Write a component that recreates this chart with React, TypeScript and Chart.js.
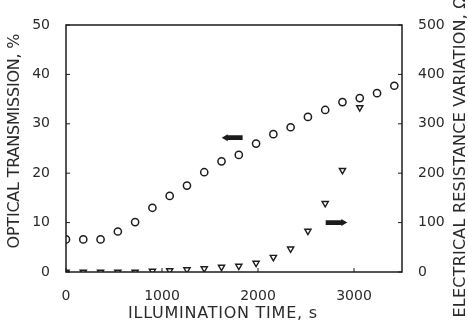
import React, { useEffect, useRef } from "react";
import { Chart, registerables } from "chart.js";

Chart.register(...registerables);

// ---- data ----
const transmissionTimes = [0, 180, 360, 540, 720, 900, 1080, 1260, 1440, 1620, 1800, 1980, 2160, 2340, 2520, 2700, 2880, 3060, 3240, 3420];
const transmissionValues = [6.6, 6.6, 6.6, 8.2, 10.1, 13.0, 15.4, 17.5, 20.2, 22.4, 23.7, 26.0, 27.9, 29.3, 31.4, 32.8, 34.4, 35.2, 36.2, 37.7];

const resistanceTimes = [0, 180, 360, 540, 720, 900, 1080, 1260, 1440, 1620, 1800, 1980, 2160, 2340, 2520, 2700, 2880, 3060];
const resistanceValues = [0, 0, 0, 0, 0, 2, 3, 5, 7, 10, 12, 18, 30, 47, 83, 139, 206, 333];

const xTicks = [0, 1000, 2000, 3000];
const leftTicks = [0, 10, 20, 30, 40, 50];
const rightTicks = [0, 100, 200, 300, 400, 500];

const xTitle = "ILLUMINATION TIME, s";
const leftTitle = "OPTICAL TRANSMISSION, %";
const rightTitle = "ELECTRICAL RESISTANCE VARIATION, \u03A9";

// arrows (data coordinates): tail time, head time, value, axis
const transmissionArrow = { from: 1840, to: 1622, value: 27.2, axis: "y" };
const resistanceArrow = { from: 2705, to: 2930, value: 100, axis: "y1" };

const INK = "#1c1c1c";
const TEXT = "#2a2a2a";

function drawArrow(ctx: CanvasRenderingContext2D, chart: any, arrow: any) {
  const xs = chart.scales.x;
  const ys = chart.scales[arrow.axis];
  const x0 = xs.getPixelForValue(arrow.from);
  const x1 = xs.getPixelForValue(arrow.to);
  const y = ys.getPixelForValue(arrow.value);
  const dir = x1 > x0 ? 1 : -1;
  const headLen = 6;
  const headHalf = 3.5;
  const shaftHalf = 2.4;
  const xb = x1 - dir * headLen;
  ctx.beginPath();
  ctx.moveTo(x0, y - shaftHalf);
  ctx.lineTo(xb, y - shaftHalf);
  ctx.lineTo(xb, y - headHalf);
  ctx.lineTo(x1, y);
  ctx.lineTo(xb, y + headHalf);
  ctx.lineTo(xb, y + shaftHalf);
  ctx.lineTo(x0, y + shaftHalf);
  ctx.closePath();
  ctx.fillStyle = INK;
  ctx.fill();
}

function drawTitle(ctx: CanvasRenderingContext2D, text: string, cx: number, cy: number, target: number, rot: number) {
  ctx.save();
  ctx.font = "16px 'DejaVu Sans'";
  (ctx as any).letterSpacing = "0px";
  const w = ctx.measureText(text).width;
  const ls = (target - w) / (text.length - 1);
  (ctx as any).letterSpacing = ls + "px";
  ctx.translate(cx, cy);
  ctx.rotate(rot);
  ctx.textAlign = "left";
  ctx.textBaseline = "middle";
  ctx.fillStyle = TEXT;
  ctx.fillText(text, -target / 2, 0);
  ctx.restore();
}

const framePlugin = {
  id: "frame",
  beforeDatasetsDraw(chart: any) {
    const { ctx, chartArea: a, scales } = chart;
    ctx.save();
    ctx.strokeStyle = INK;
    ctx.lineWidth = 1.5;
    ctx.strokeRect(a.left, a.top, a.right - a.left, a.bottom - a.top);
    ctx.lineWidth = 1;
    const tl = 4;
    ctx.beginPath();
    leftTicks.forEach((v) => {
      const y = scales.y.getPixelForValue(v);
      ctx.moveTo(a.left, y);
      ctx.lineTo(a.left + tl, y);
    });
    rightTicks.forEach((v) => {
      const y = scales.y1.getPixelForValue(v);
      ctx.moveTo(a.right, y);
      ctx.lineTo(a.right - tl, y);
    });
    xTicks.forEach((v) => {
      const x = scales.x.getPixelForValue(v);
      ctx.moveTo(x, a.bottom);
      ctx.lineTo(x, a.bottom - tl);
    });
    ctx.stroke();
    ctx.restore();
  },
  afterDatasetsDraw(chart: any) {
    const { ctx, chartArea: a } = chart;
    ctx.save();
    drawArrow(ctx, chart, transmissionArrow);
    drawArrow(ctx, chart, resistanceArrow);
    const midX = (a.left + a.right) / 2;
    const midY = (a.top + a.bottom) / 2;
    drawTitle(ctx, xTitle, midX - 11.5, a.bottom + 41.5, 189, 0);
    drawTitle(ctx, leftTitle, 15, midY - 7.5, 215, -Math.PI / 2);
    drawTitle(ctx, rightTitle, 461, midY + 8.5, 321, -Math.PI / 2);
    ctx.restore();
  },
};

const plainLabel = (v: any) => String(v);

export default function App() {
  const ref = useRef<HTMLCanvasElement | null>(null);

  useEffect(() => {
    if (!ref.current) return;
    const tickFont = { family: "'DejaVu Sans'", size: 14 };
    const chart = new Chart(ref.current, {
      type: "scatter",
      data: {
        datasets: [
          {
            label: "Optical transmission",
            data: transmissionTimes.map((t, i) => ({ x: t, y: transmissionValues[i] })),
            yAxisID: "y",
            pointStyle: "circle",
            pointRadius: 3.6,
            borderWidth: 1.5,
            borderColor: INK,
            backgroundColor: "rgba(255,255,255,0)",
            showLine: false,
          },
          {
            label: "Electrical resistance variation",
            data: resistanceTimes.map((t, i) => ({ x: t, y: resistanceValues[i] })),
            yAxisID: "y1",
            pointStyle: "triangle",
            rotation: 180,
            pointRadius: 3.6,
            borderWidth: 1.4,
            borderColor: INK,
            backgroundColor: "rgba(255,255,255,0)",
            showLine: false,
          },
        ],
      },
      options: {
        responsive: false,
        animation: false,
        devicePixelRatio: 1,
        layout: { padding: { top: 25, left: 0, right: 0, bottom: 0 } },
        plugins: { legend: { display: false }, tooltip: { enabled: false } },
        scales: {
          x: {
            type: "linear",
            min: 0,
            max: 3500,
            grid: { display: false },
            border: { display: false },
            ticks: { stepSize: 1000, font: tickFont, color: TEXT, padding: 8, maxRotation: 0, callback: plainLabel },
            afterBuildTicks: (scale: any) => {
              scale.ticks = xTicks.map((v) => ({ value: v }));
            },
            afterFit: (scale: any) => {
              scale.height = 56;
            },
          },
          y: {
            type: "linear",
            position: "left",
            min: 0,
            max: 50,
            grid: { display: false },
            border: { display: false },
            ticks: { stepSize: 10, font: tickFont, color: TEXT, padding: 8, callback: plainLabel },
            afterBuildTicks: (scale: any) => {
              scale.ticks = leftTicks.map((v) => ({ value: v }));
            },
            afterFit: (scale: any) => {
              scale.width = 66;
            },
          },
          y1: {
            type: "linear",
            position: "right",
            min: 0,
            max: 500,
            grid: { display: false },
            border: { display: false },
            ticks: { stepSize: 100, font: tickFont, color: TEXT, padding: 8, callback: plainLabel },
            afterBuildTicks: (scale: any) => {
              scale.ticks = rightTicks.map((v) => ({ value: v }));
            },
            afterFit: (scale: any) => {
              scale.width = 66;
            },
          },
        },
      },
      plugins: [framePlugin],
    } as any);
    return () => chart.destroy();
  }, []);

  return (
    <div style={{ position: "fixed", left: 0, top: 0, width: 468, height: 328, background: "#fff" }}>
      <canvas ref={ref} width={468} height={328} />
    </div>
  );
}
